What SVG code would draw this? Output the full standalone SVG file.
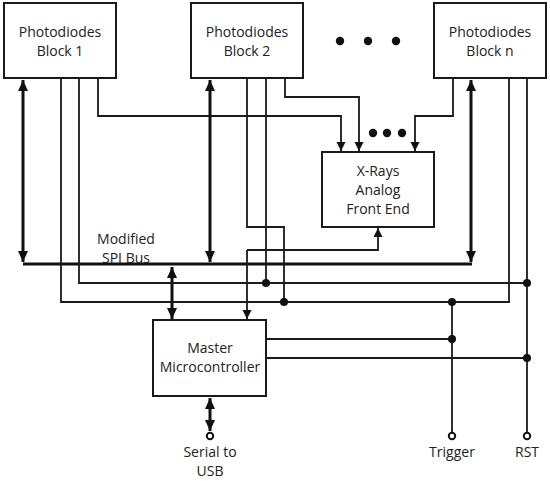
<svg xmlns="http://www.w3.org/2000/svg" width="550" height="481" viewBox="0 0 550 481">
<style>
.box{fill:#fff;stroke:#1a1a1a;stroke-width:2}
.t{font-family:"Open Sans","Liberation Sans",sans-serif;font-size:14px;fill:#222;text-anchor:middle}
.w{fill:none;stroke:#1a1a1a;stroke-width:1.8}
.wa{fill:none;stroke:#1a1a1a;stroke-width:1.8;marker-end:url(#ah)}
.bus{fill:none;stroke:#111;stroke-width:3}
.bi{fill:none;stroke:#111;stroke-width:3;marker-start:url(#ahb);marker-end:url(#ahb)}
.j{fill:#111}
.term{fill:#fff;stroke:#111;stroke-width:2}
</style>
<defs>
<marker id="ah" markerUnits="userSpaceOnUse" markerWidth="10" markerHeight="10" refX="9" refY="4.5" orient="auto"><path d="M0,0 L9,4.5 L0,9 z" fill="#111"/></marker>
<marker id="ahb" markerUnits="userSpaceOnUse" markerWidth="12" markerHeight="12" refX="11" refY="5" orient="auto-start-reverse"><path d="M0,0 L11,5 L0,10 z" fill="#111"/></marker>
</defs>
<g id="connectors">
<path class="wa" d="M98,78 V116 H341 V151"/>
<path class="wa" d="M285,78 V97 H359 V151"/>
<path class="wa" d="M453,78 V116 H415 V151"/>
<path class="bus" d="M23,264 H472"/>
<path class="bi" d="M23,80 V262"/>
<path class="bi" d="M210,80 V262"/>
<path class="bi" d="M471,80 V262"/>
<path class="bi" d="M172,267 V319"/>
<path class="bi" d="M210,398 V431"/>
<path class="w" d="M61,78 V302 H509 V78"/>
<path class="w" d="M79,78 V283 H527"/>
<path class="w" d="M527,78 V433"/>
<path class="w" d="M266,78 V283"/>
<path class="w" d="M247,78 V227 H284 V302"/>
<path class="wa" d="M247,250 V319"/>
<path class="wa" d="M247,250 H378 V228"/>
<path class="w" d="M452,302 V433"/>
<path class="w" d="M266,339 H452"/>
<path class="w" d="M266,358 H527"/>
<circle class="j" cx="266" cy="283" r="4"/>
<circle class="j" cx="527" cy="283" r="4"/>
<circle class="j" cx="284" cy="302" r="4"/>
<circle class="j" cx="452" cy="302" r="4"/>
<circle class="j" cx="452" cy="339" r="4"/>
<circle class="j" cx="527" cy="358" r="4"/>
<circle class="term" cx="210" cy="436" r="3.2"/>
<circle class="term" cx="452" cy="436" r="3.2"/>
<circle class="term" cx="527" cy="436" r="3.2"/>
<circle class="j" cx="340" cy="41" r="4.2"/>
<circle class="j" cx="368" cy="41" r="4.2"/>
<circle class="j" cx="396" cy="41" r="4.2"/>
<circle class="j" cx="373" cy="133" r="4.2"/>
<circle class="j" cx="387" cy="133" r="4.2"/>
<circle class="j" cx="402" cy="133" r="4.2"/>
</g>
<g id="block1"><rect class="box" x="4" y="3" width="112" height="75"/><text class="t" x="60" y="37">Photodiodes</text><text class="t" x="60" y="56">Block 1</text></g>
<g id="block2"><rect class="box" x="191" y="3" width="112" height="75"/><text class="t" x="247" y="37">Photodiodes</text><text class="t" x="247" y="56">Block 2</text></g>
<g id="blockn"><rect class="box" x="434" y="3" width="112" height="75"/><text class="t" x="490" y="37">Photodiodes</text><text class="t" x="490" y="56">Block n</text></g>
<g id="afe"><rect class="box" x="322" y="152" width="112" height="75"/><text class="t" x="378" y="176">X-Rays</text><text class="t" x="378" y="195">Analog</text><text class="t" x="378" y="214">Front End</text></g>
<g id="master"><rect class="box" x="153" y="320" width="113" height="76"/><text class="t" x="210" y="353">Master</text><text class="t" x="210" y="372">Microcontroller</text></g>
<g id="labels">
<text class="t" x="126" y="244">Modified</text>
<text class="t" x="126" y="263">SPI Bus</text>
<text class="t" x="210" y="457">Serial to</text>
<text class="t" x="210" y="476">USB</text>
<text class="t" x="452" y="457">Trigger</text>
<text class="t" x="527" y="457">RST</text>
</g>
</svg>
